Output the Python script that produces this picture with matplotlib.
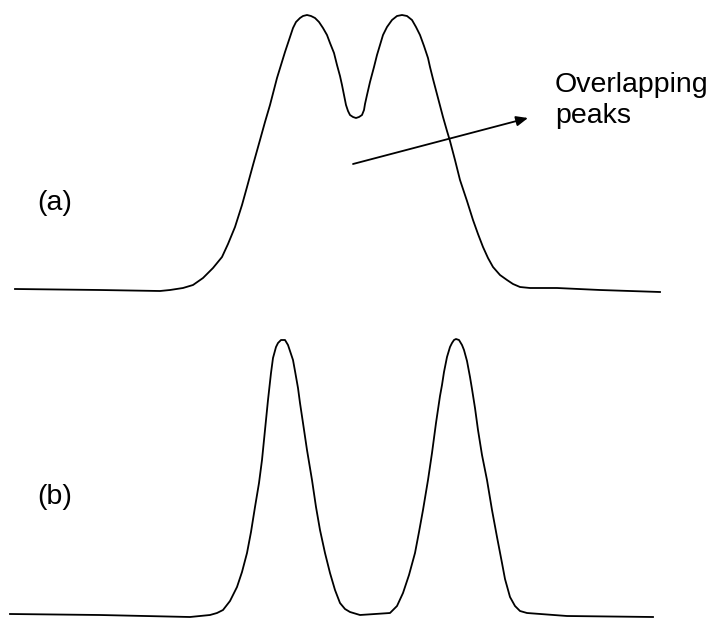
import matplotlib
matplotlib.use("Agg")
import matplotlib.pyplot as plt

# Trace (a): overlapping peaks (picture units, y grows downward)
xa = [15, 100, 160, 170, 183, 193, 203, 213, 222, 228, 235, 242, 247, 253, 260, 265, 270,
      277, 285, 289, 293, 296, 300, 303, 307, 311, 315, 319, 323, 327, 330, 334, 337, 340,
      342, 344, 346, 348, 350, 353, 356, 359, 362, 364, 365, 367, 370, 374, 377, 380, 383,
      387, 392, 397, 402, 407, 412, 416, 420, 424, 428, 430, 433, 438, 443, 447, 450, 455,
      460, 467, 473, 478, 483, 488, 493, 500, 507, 513, 520, 530, 557, 600, 660]
ya = [289, 290, 291, 290, 288, 285, 278, 268, 257, 244, 227, 205, 187, 165, 140, 122, 105,
      78, 52, 40, 28, 22, 18, 16, 15, 16, 18, 22, 28, 35, 43, 53, 65, 76,
      85, 95, 105, 111, 115, 117, 118, 117, 115, 110, 104, 95, 82, 67, 55, 45, 35,
      27, 20, 16, 15, 16, 20, 27, 35, 46, 58, 67, 79, 98, 117, 131, 141, 160,
      180, 201, 220, 234, 247, 258, 267, 275, 280, 284, 287, 288, 288, 290, 292]

# Trace (b): resolved peaks
xb = [10, 100, 190, 200, 210, 217, 223, 230, 237, 242, 247, 251, 255, 259, 262, 265, 268,
      271, 273, 276, 278, 281, 283, 285, 288, 290, 293, 295, 298, 300, 303, 307, 312, 316,
      320, 325, 330, 335, 340, 345, 350, 360, 390, 397, 403, 409, 415, 419, 423, 428, 432,
      436, 440, 442, 444, 447, 450, 452, 454, 456, 459, 462, 464, 467, 470, 472, 475, 478,
      482, 487, 492, 497, 502, 505, 510, 515, 520, 527, 567, 653]
yb = [614, 615, 617, 616, 615, 613, 610, 601, 587, 572, 553, 532, 507, 483, 460, 430, 400,
      373, 358, 347, 343, 340, 340, 340, 345, 351, 360, 371, 388, 403, 423, 450, 480, 507,
      530, 553, 573, 590, 603, 609, 612, 615, 613, 606, 593, 575, 553, 532, 510, 480, 453,
      423, 396, 385, 372, 357, 347, 343, 340, 339, 340, 345, 350, 361, 377, 389, 408, 430,
      455, 480, 510, 537, 563, 579, 597, 606, 611, 613, 616, 617]

labels = ["(a)", "(b)"]
annotation_lines = ["Overlapping", "peaks"]

plt.rcParams['font.family'] = ['Liberation Sans', 'DejaVu Sans']

fig = plt.figure(figsize=(7.14, 6.19), dpi=100)
ax = fig.add_axes([0, 0, 1, 1])
ax.set_xlim(0, 714)
ax.set_ylim(619, 0)
ax.axis('off')

ax.plot(xa, ya, color='black', lw=1.3, solid_joinstyle='round')
ax.plot(xb, yb, color='black', lw=1.3, solid_joinstyle='round')

ax.text(55, 203, labels[0], fontsize=20.5, ha='center', va='center')
ax.text(55, 497, labels[1], fontsize=20.5, ha='center', va='center')

ax.annotate("", xy=(528, 118), xytext=(353, 164),
            arrowprops=dict(arrowstyle='-|>,head_length=0.7,head_width=0.3',
                            color='black', lw=1.3, shrinkA=0, shrinkB=0))
ax.text(555, 92, annotation_lines[0], fontsize=20.5, ha='left', va='baseline')
ax.text(555, 123, annotation_lines[1], fontsize=20.5, ha='left', va='baseline')

fig.savefig("out.png", dpi=100)
